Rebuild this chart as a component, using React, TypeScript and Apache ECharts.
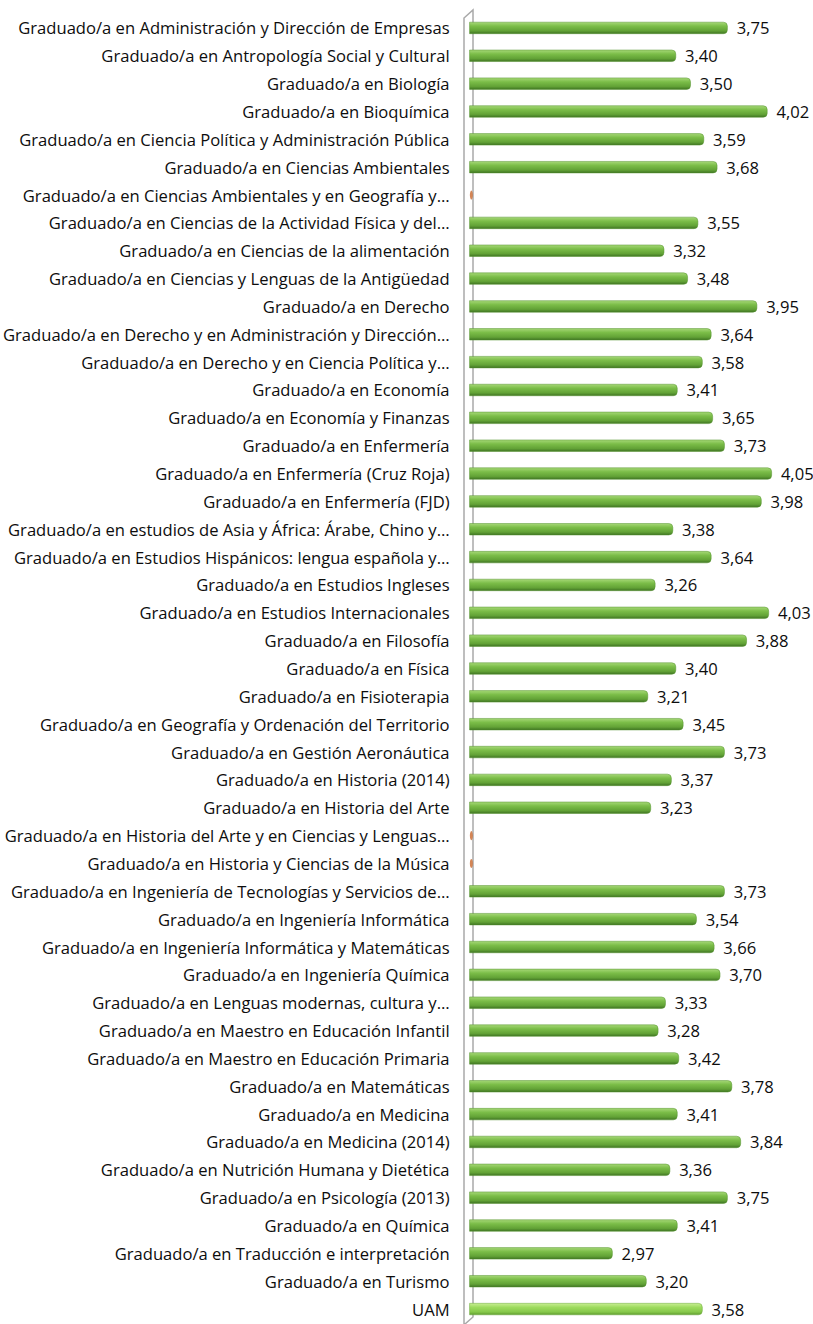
import React, { useEffect, useRef } from "react";
import * as echarts from "echarts";

const categories: string[] = [
  "Graduado/a en Administración y Dirección de Empresas",
  "Graduado/a en Antropología Social y Cultural",
  "Graduado/a en Biología",
  "Graduado/a en Bioquímica",
  "Graduado/a en Ciencia Política y Administración Pública",
  "Graduado/a en Ciencias Ambientales",
  "Graduado/a en Ciencias Ambientales y en Geografía y…",
  "Graduado/a en Ciencias de la Actividad Física y del…",
  "Graduado/a en Ciencias de la alimentación",
  "Graduado/a en Ciencias y Lenguas de la Antigüedad",
  "Graduado/a en Derecho",
  "Graduado/a en Derecho y en Administración y Dirección…",
  "Graduado/a en Derecho y en Ciencia Política y…",
  "Graduado/a en Economía",
  "Graduado/a en Economía y Finanzas",
  "Graduado/a en Enfermería",
  "Graduado/a en Enfermería (Cruz Roja)",
  "Graduado/a en Enfermería (FJD)",
  "Graduado/a en estudios de Asia y África: Árabe, Chino y…",
  "Graduado/a en Estudios Hispánicos: lengua española y…",
  "Graduado/a en Estudios Ingleses",
  "Graduado/a en Estudios Internacionales",
  "Graduado/a en Filosofía",
  "Graduado/a en Física",
  "Graduado/a en Fisioterapia",
  "Graduado/a en Geografía y Ordenación del Territorio",
  "Graduado/a en Gestión Aeronáutica",
  "Graduado/a en Historia (2014)",
  "Graduado/a en Historia del Arte",
  "Graduado/a en Historia del Arte y en Ciencias y Lenguas…",
  "Graduado/a en Historia y Ciencias de la Música",
  "Graduado/a en Ingeniería de Tecnologías y Servicios de…",
  "Graduado/a en Ingeniería Informática",
  "Graduado/a en Ingeniería Informática y Matemáticas",
  "Graduado/a en Ingeniería Química",
  "Graduado/a en Lenguas modernas, cultura y…",
  "Graduado/a en Maestro en Educación Infantil",
  "Graduado/a en Maestro en Educación Primaria",
  "Graduado/a en Matemáticas",
  "Graduado/a en Medicina",
  "Graduado/a en Medicina (2014)",
  "Graduado/a en Nutrición Humana y Dietética",
  "Graduado/a en Psicología (2013)",
  "Graduado/a en Química",
  "Graduado/a en Traducción e interpretación",
  "Graduado/a en Turismo",
  "UAM",
];

const values: (number | null)[] = [
  3.75, 3.4, 3.5, 4.02, 3.59, 3.68, null, 3.55, 3.32, 3.48,
  3.95, 3.64, 3.58, 3.41, 3.65, 3.73, 4.05, 3.98, 3.38, 3.64,
  3.26, 4.03, 3.88, 3.4, 3.21, 3.45, 3.73, 3.37, 3.23, null,
  null, 3.73, 3.54, 3.66, 3.7, 3.33, 3.28, 3.42, 3.78, 3.41,
  3.84, 3.36, 3.75, 3.41, 2.97, 3.2, 3.58,
];

const highlightCategory = "UAM";
const axisMin = 2;
const axisMax = 4.2;

const greenGrad = new echarts.graphic.LinearGradient(0, 0, 0, 1, [
  { offset: 0, color: "#a6d877" },
  { offset: 0.35, color: "#7bbd48" },
  { offset: 0.75, color: "#62a236" },
  { offset: 1, color: "#3f7423" },
]);
const lightGrad = new echarts.graphic.LinearGradient(0, 0, 0, 1, [
  { offset: 0, color: "#c8ee93" },
  { offset: 0.35, color: "#9ddb5e" },
  { offset: 0.75, color: "#86c84a" },
  { offset: 1, color: "#5e9c2e" },
]);

export default function App() {
  const ref = useRef<HTMLDivElement>(null);
  useEffect(() => {
    if (!ref.current) return;
    const chart = echarts.init(ref.current, undefined, { renderer: "svg" });
    const barData = values.map((v, i) =>
      categories[i] === highlightCategory
        ? { value: v, itemStyle: { color: lightGrad, borderColor: "#6aa83a" } }
        : v
    );
    const emptyData = values
      .map((v, i) => (v == null ? [axisMin + 0.012, categories[i]] : null))
      .filter((d) => d !== null);
    chart.setOption({
      animation: false,
      textStyle: { fontFamily: "Open Sans" },
      grid: { left: 467, right: 19, top: 14, bottom: 1 },
      xAxis: {
        type: "value",
        min: axisMin,
        max: axisMax,
        show: false,
      },
      yAxis: {
        type: "category",
        data: categories,
        inverse: true,
        axisLine: { show: false },
        axisTick: { show: false },
        axisLabel: {
          margin: 20,
          fontSize: 16.6,
          color: "#0d0d0d",
          fontFamily: "Open Sans",
        },
      },
      graphic: [
        {
          type: "polyline",
          z: 0,
          shape: {
            points: [
              [464, 1324],
              [464, 18],
              [473, 10],
              [473, 1317],
              [465, 1324],
            ],
          },
          style: { stroke: "#a9a9a9", lineWidth: 1.5, fill: null },
        },
      ],
      series: [
        {
          type: "bar",
          z: 3,
          data: barData,
          barWidth: 12,
          itemStyle: {
            color: greenGrad,
            borderRadius: [0, 4, 4, 0],
            borderColor: "#55922e",
            borderWidth: 0.5,
          },
          label: {
            show: true,
            position: "right",
            distance: 9,
            fontSize: 16.6,
            color: "#0d0d0d",
            fontFamily: "Open Sans",
            formatter: (p: any) =>
              p.value == null ? "" : Number(p.value).toFixed(2).replace(".", ","),
          },
        },
        {
          type: "scatter",
          z: 4,
          data: emptyData,
          symbol: "circle",
          symbolSize: [3, 9],
          itemStyle: { color: "#c9672b" },
        },
      ],
    });
    return () => chart.dispose();
  }, []);
  return (
    <div
      ref={ref}
      style={{ position: "fixed", left: 0, top: 0, width: 813, height: 1324, background: "#fff" }}
    />
  );
}
